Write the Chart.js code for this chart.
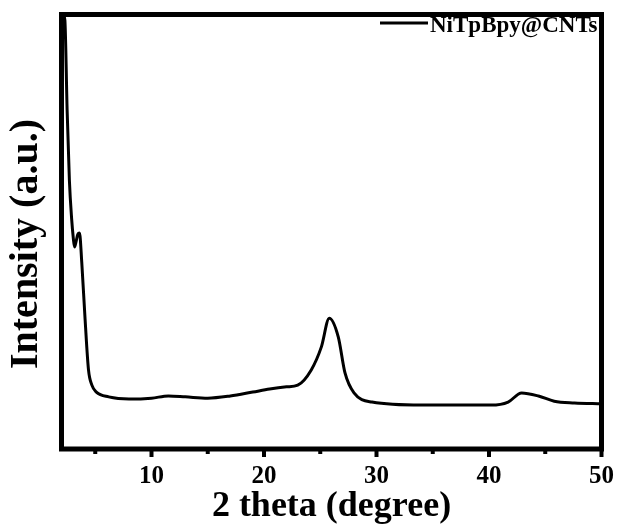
<!DOCTYPE html>
<html>
<head>
<meta charset="utf-8">
<script src="https://cdn.jsdelivr.net/npm/chart.js@4.4.1/dist/chart.umd.min.js"></script>
<style>
  html, body { margin: 0; padding: 0; background: #ffffff; }
  #grafico { display: block; }
</style>
</head>
<body>
<canvas id="grafico" width="619" height="531"></canvas>
<script>
// patron de difraccion (2 theta en grados, intensidad relativa)
var etiquetaSerie = 'NiTpBpy@CNTs';
var tituloY = 'Intensity (a.u.)';
var dosTheta = [2.2, 2.3, 2.5, 2.7, 2.9, 3.05, 3.16, 3.3, 3.45, 3.6, 3.8, 4.1, 4.4, 4.7, 5.1, 6.2, 8, 10, 11.5, 13, 15, 17, 19, 20.5, 22, 23, 24.2, 25.1, 25.8, 26.6, 27.2, 28, 29.6, 34, 40.2, 41.7, 42.9, 44.4, 45.8, 47.6, 50];
var intensidad = [99.7, 98.7, 78.0, 61.9, 53.0, 48.5, 46.5, 47.8, 49.4, 49.7, 43.0, 29.7, 18.2, 14.7, 13.1, 12.0, 11.5, 11.7, 12.2, 12.0, 11.7, 12.2, 13.1, 13.8, 14.3, 14.7, 18.2, 23.5, 30.1, 25.8, 17.5, 12.9, 10.8, 10.1, 10.1, 10.8, 12.9, 12.2, 11.0, 10.6, 10.4];
var ticksMayores = [10, 20, 30, 40, 50];
var ticksMenores = [5, 15, 25, 35, 45];

var fuente = 'Liberation Serif, Times New Roman, serif';

var puntos = [];
for (var i = 0; i < dosTheta.length; i++) {
    puntos.push({ x: dosTheta[i], y: intensidad[i] });
}

// marco negro, marcas del eje x, titulo del eje y y leyenda
var marco = {
    id: 'marco',
    afterDraw: function (chart) {
        var ctx = chart.ctx;
        var area = chart.chartArea;
        var escalaX = chart.scales.x;
        ctx.save();
        ctx.strokeStyle = '#000';
        ctx.lineWidth = 5;
        ctx.strokeRect(area.left, area.top, area.right - area.left, area.bottom - area.top);

        ctx.lineWidth = 4;
        ticksMayores.forEach(function (v) {
            var px = escalaX.getPixelForValue(v);
            ctx.beginPath();
            ctx.moveTo(px, area.bottom);
            ctx.lineTo(px, area.bottom + 8);
            ctx.stroke();
        });
        ticksMenores.forEach(function (v) {
            var px = escalaX.getPixelForValue(v);
            ctx.beginPath();
            ctx.moveTo(px, area.bottom);
            ctx.lineTo(px, area.bottom + 5);
            ctx.stroke();
        });

        ctx.fillStyle = '#000';

        // titulo vertical
        ctx.save();
        ctx.translate(27, 244);
        ctx.rotate(-Math.PI / 2);
        ctx.font = 'bold 40px ' + fuente;
        ctx.textAlign = 'center';
        ctx.textBaseline = 'middle';
        ctx.fillText(tituloY, 0, 0);
        ctx.restore();

        // leyenda
        ctx.lineWidth = 3;
        ctx.beginPath();
        ctx.moveTo(380, 23);
        ctx.lineTo(428, 23);
        ctx.stroke();
        ctx.font = 'bold 23px ' + fuente;
        ctx.textBaseline = 'middle';
        ctx.textAlign = 'left';
        ctx.fillText(chart.data.datasets[0].label, 430, 26);
        ctx.restore();
    }
};

var grafico = new Chart(document.getElementById('grafico'), {
    type: 'line',
    data: {
        datasets: [{
            label: etiquetaSerie,
            data: puntos,
            borderColor: '#000',
            borderWidth: 3,
            pointRadius: 0,
            fill: false,
            cubicInterpolationMode: 'monotone'
        }]
    },
    options: {
        responsive: false,
        animation: false,
        layout: {
            padding: { top: 14.5, right: 17.5, left: 0, bottom: 0 }
        },
        plugins: {
            legend: { display: false },
            tooltip: { enabled: false }
        },
        scales: {
            x: {
                type: 'linear',
                min: 2,
                max: 50,
                afterFit: function (s) {
                    s.height = 82;
                    s.paddingLeft = 0;
                    s.paddingRight = 0;
                },
                grid: { display: false, drawTicks: false },
                border: { display: false },
                ticks: {
                    stepSize: 10,
                    padding: 13,
                    color: '#000',
                    font: { family: fuente, size: 25, weight: 'bold' },
                    callback: function (v) { return v % 10 === 0 ? String(v) : ''; }
                },
                title: {
                    display: true,
                    text: '2 theta (degree)',
                    color: '#000',
                    font: { family: fuente, size: 36, weight: 'bold', lineHeight: 1 },
                    padding: { top: 0, bottom: 6 }
                }
            },
            y: {
                min: 0,
                max: 100,
                afterFit: function (s) { s.width = 61.5; },
                grid: { display: false, drawTicks: false },
                border: { display: false },
                ticks: { display: false }
            }
        }
    },
    plugins: [marco]
});
</script>
</body>
</html>
